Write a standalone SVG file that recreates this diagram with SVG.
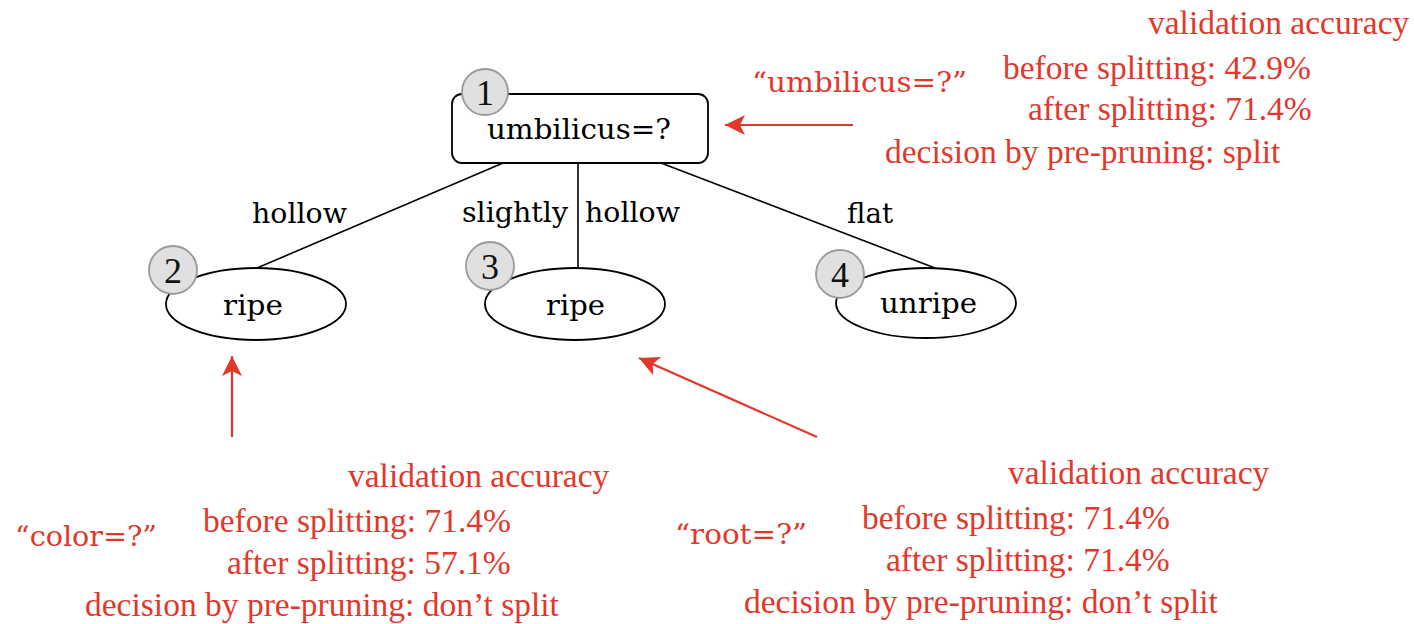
<svg xmlns="http://www.w3.org/2000/svg" width="1414" height="624" viewBox="0 0 1414 624">
  <style>
    .node { fill: #ffffff; stroke: #000000; stroke-width: 1.8; }
    .edge { stroke: #000000; stroke-width: 1.6; fill: none; }
    .badge { fill: #e0e0e0; stroke: #9a9a9a; stroke-width: 1.8; }
    .num { font-family: "Liberation Serif", "Times New Roman", serif; font-size: 36px; fill: #111111; text-anchor: middle; }
    .tt { font-family: "DejaVu Serif", "Liberation Serif", serif; font-size: 27px; fill: #000000; }
    .note { font-family: "Liberation Serif", "Times New Roman", serif; font-size: 33.5px; fill: #e2382c; }
    .ttred { font-family: "DejaVu Serif", "Liberation Serif", serif; font-size: 27px; fill: #e2382c; }
    .pointer { stroke: #e2382c; stroke-width: 2.2; fill: none; }
  </style>
  <defs>
    <marker id="redhead" markerUnits="userSpaceOnUse" markerWidth="24" markerHeight="24" viewBox="-22 -12 24 24" refX="0" refY="0" orient="auto">
      <path d="M0,0 L-20,-10 L-15,0 L-20,10 Z" fill="#e2382c"/>
    </marker>
  </defs>

  <!-- tree edges -->
  <g id="connectors">
    <line class="edge" x1="503" y1="163" x2="257" y2="268"/>
    <line class="edge" x1="578" y1="163" x2="578" y2="268"/>
    <line class="edge" x1="661" y1="163" x2="935" y2="268"/>
    <text class="tt" x="252" y="223" textLength="95" lengthAdjust="spacingAndGlyphs">hollow</text>
    <text class="tt" x="462" y="222" textLength="106" lengthAdjust="spacingAndGlyphs">slightly</text>
    <text class="tt" x="585" y="222" textLength="95" lengthAdjust="spacingAndGlyphs">hollow</text>
    <text class="tt" x="847" y="223" textLength="46" lengthAdjust="spacingAndGlyphs">flat</text>
  </g>

  <!-- root test node -->
  <g id="node1">
    <rect class="node" x="452" y="94" width="256" height="69" rx="10" ry="10"/>
    <text class="tt" x="487" y="139" textLength="184" lengthAdjust="spacingAndGlyphs">umbilicus=?</text>
    <circle class="badge" cx="485" cy="92" r="23"/>
    <text class="num" x="485" y="105">1</text>
  </g>

  <!-- leaf nodes -->
  <g id="node2">
    <ellipse class="node" cx="256" cy="304" rx="90" ry="36"/>
    <text class="tt" x="223" y="315" textLength="60" lengthAdjust="spacingAndGlyphs">ripe</text>
    <circle class="badge" cx="173" cy="270" r="24"/>
    <text class="num" x="173" y="283">2</text>
  </g>
  <g id="node3">
    <ellipse class="node" cx="575" cy="304" rx="90" ry="36"/>
    <text class="tt" x="546" y="315" textLength="59" lengthAdjust="spacingAndGlyphs">ripe</text>
    <circle class="badge" cx="490" cy="266" r="24"/>
    <text class="num" x="490" y="279">3</text>
  </g>
  <g id="node4">
    <ellipse class="node" cx="926" cy="303" rx="90" ry="35"/>
    <text class="tt" x="880" y="313" textLength="97" lengthAdjust="spacingAndGlyphs">unripe</text>
    <circle class="badge" cx="840" cy="274" r="24"/>
    <text class="num" x="840" y="287">4</text>
  </g>

  <!-- pre-pruning annotations -->
  <g id="pointers">
    <line class="pointer" x1="853" y1="125" x2="725" y2="125" marker-end="url(#redhead)"/>
    <line class="pointer" x1="232" y1="437" x2="232" y2="356" marker-end="url(#redhead)"/>
    <line class="pointer" x1="817" y1="437" x2="639" y2="358" marker-end="url(#redhead)"/>
  </g>

  <g id="note-root">
    <text class="ttred" x="752" y="92" textLength="215" lengthAdjust="spacingAndGlyphs">“umbilicus=?”</text>
    <text class="note" x="1148" y="34">validation accuracy</text>
    <text class="note" x="1003" y="79">before splitting: 42.9%</text>
    <text class="note" x="1028" y="120">after splitting: 71.4%</text>
    <text class="note" x="885" y="163">decision by pre-pruning: split</text>
  </g>

  <g id="note-color">
    <text class="ttred" x="15" y="546" textLength="142" lengthAdjust="spacingAndGlyphs">“color=?”</text>
    <text class="note" x="348" y="487">validation accuracy</text>
    <text class="note" x="203" y="532">before splitting: 71.4%</text>
    <text class="note" x="227" y="574">after splitting: 57.1%</text>
    <text class="note" x="85" y="616">decision by pre-pruning: don’t split</text>
  </g>

  <g id="note-root-shape">
    <text class="ttred" x="675" y="544" textLength="132" lengthAdjust="spacingAndGlyphs">“root=?”</text>
    <text class="note" x="1008" y="484">validation accuracy</text>
    <text class="note" x="862" y="529">before splitting: 71.4%</text>
    <text class="note" x="886" y="571">after splitting: 71.4%</text>
    <text class="note" x="744" y="613">decision by pre-pruning: don’t split</text>
  </g>
</svg>
